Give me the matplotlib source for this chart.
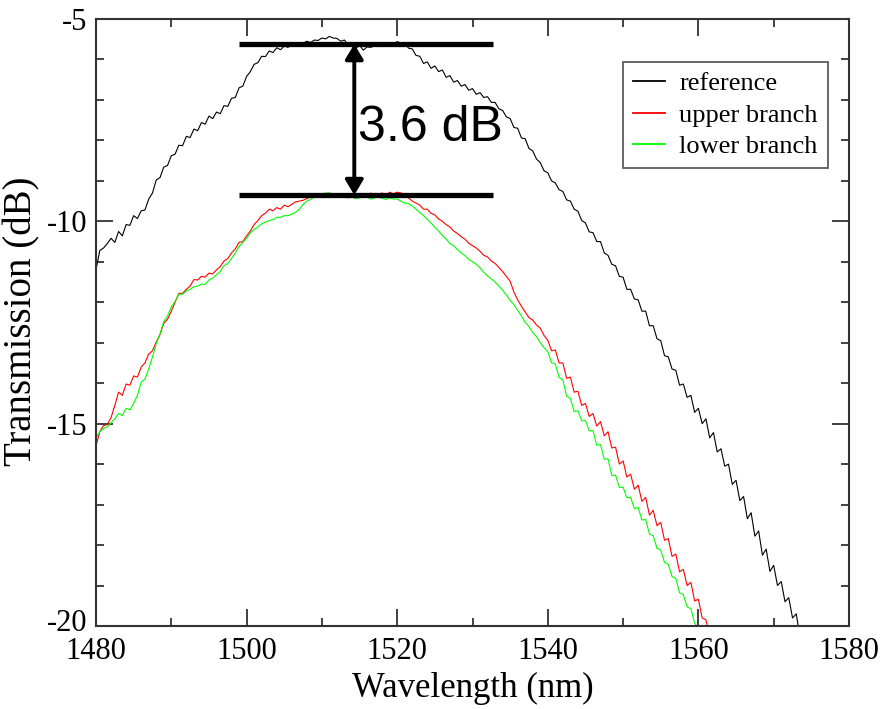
import numpy as np
import matplotlib
matplotlib.use("Agg")
import matplotlib.pyplot as plt
from matplotlib.ticker import MultipleLocator
from matplotlib.transforms import ScaledTranslation

plt.rcParams['axes.unicode_minus'] = False

# ---------------- data (0.5 nm steps) ----------------
ref_wl = np.arange(1480, 1574.01, 0.5)
ref_db = [-11.2, -10.72, -10.66, -10.55, -10.42, -10.52, -10.25, -10.36, -10.08, -10.1,
          -9.86, -9.93, -9.74, -9.72, -9.45, -9.3, -8.98, -8.92, -8.66, -8.62,
          -8.38, -8.34, -8.12, -8.13, -7.9, -7.93, -7.72, -7.76, -7.56, -7.6,
          -7.4, -7.46, -7.3, -7.34, -7.14, -7.16, -6.96, -6.94, -6.7, -6.66,
          -6.42, -6.3, -6.12, -6.08, -5.92, -5.93, -5.79, -5.83, -5.71, -5.76,
          -5.67, -5.7, -5.64, -5.66, -5.6, -5.6, -5.55, -5.58, -5.52, -5.53,
          -5.47, -5.49, -5.43, -5.47, -5.48, -5.55, -5.52, -5.65, -5.62, -5.73,
          -5.65, -5.77, -5.69, -5.7, -5.66, -5.68, -5.62, -5.64, -5.6, -5.61,
          -5.56, -5.6, -5.6, -5.72, -5.74, -5.9, -5.92, -6.1, -6.06, -6.22,
          -6.16, -6.3, -6.26, -6.44, -6.4, -6.56, -6.52, -6.66, -6.62, -6.76,
          -6.72, -6.86, -6.82, -6.94, -6.92, -7.06, -7.06, -7.22, -7.26, -7.42,
          -7.46, -7.68, -7.7, -7.94, -7.96, -8.2, -8.26, -8.46, -8.55, -8.75,
          -8.8, -9.0, -9.05, -9.22, -9.26, -9.47, -9.5, -9.7, -9.75, -9.98,
          -10.04, -10.26, -10.28, -10.5, -10.5, -10.78, -10.84, -11.06, -11.1, -11.36,
          -11.38, -11.68, -11.68, -11.92, -11.94, -12.22, -12.22, -12.58, -12.58, -12.9,
          -12.95, -13.32, -13.35, -13.65, -13.68, -14.05, -14.02, -14.35, -14.3, -14.72,
          -14.62, -15.0, -14.88, -15.35, -15.22, -15.7, -15.62, -16.05, -16.0, -16.5,
          -16.4, -16.9, -16.8, -17.35, -17.2, -17.78, -17.65, -18.25, -18.1, -18.65,
          -18.5, -19.0, -18.9, -19.4, -19.3, -19.8, -19.7, -20.3, -20.5]

up_wl = np.arange(1480, 1562.01, 0.5)
up_db = [-15.55, -15.2, -15.05, -15.02, -14.85, -14.55, -14.22, -14.3, -14.02, -14.05,
         -13.82, -13.85, -13.6, -13.5, -13.28, -13.2, -12.98, -12.8, -12.52, -12.42,
         -12.22, -12.0, -11.78, -11.78, -11.68, -11.6, -11.44, -11.45, -11.36, -11.38,
         -11.28, -11.3, -11.2, -11.12, -10.98, -10.92, -10.78, -10.68, -10.52, -10.5,
         -10.36, -10.24, -10.08, -9.98, -9.86, -9.8, -9.7, -9.74, -9.66, -9.7,
         -9.6, -9.64, -9.58, -9.52, -9.5, -9.48, -9.44, -9.4, -9.38, -9.36,
         -9.34, -9.38, -9.3, -9.36, -9.33, -9.4, -9.36, -9.42, -9.38, -9.35,
         -9.34, -9.4, -9.35, -9.3, -9.38, -9.33, -9.3, -9.36, -9.28, -9.32,
         -9.28, -9.3, -9.33, -9.42, -9.5, -9.55, -9.6, -9.7, -9.7, -9.8,
         -9.84, -9.94, -10.0, -10.08, -10.14, -10.24, -10.3, -10.38, -10.44, -10.54,
         -10.6, -10.66, -10.74, -10.84, -10.88, -10.98, -11.04, -11.14, -11.24, -11.36,
         -11.48, -11.75, -11.94, -12.1, -12.24, -12.38, -12.44, -12.56, -12.64, -12.82,
         -12.94, -13.2, -13.18, -13.5, -13.5, -13.88, -13.85, -14.22, -14.2, -14.55,
         -14.5, -14.82, -14.75, -15.06, -14.95, -15.3, -15.2, -15.6, -15.58, -16.0,
         -15.92, -16.32, -16.25, -16.62, -16.52, -16.92, -16.82, -17.26, -17.14, -17.52,
         -17.44, -17.88, -17.84, -18.28, -18.22, -18.66, -18.6, -19.0, -18.92, -19.38,
         -19.34, -19.8, -19.85, -20.25, -20.35]

lo_wl = np.arange(1480, 1560.01, 0.5)
lo_db = [-15.35, -15.2, -15.12, -15.08, -14.98, -14.88, -14.75, -14.8, -14.62, -14.66,
         -14.5, -14.3, -13.98, -13.9, -13.65, -13.35, -13.02, -12.78, -12.48, -12.34,
         -12.12, -11.98, -11.8, -11.8, -11.72, -11.68, -11.62, -11.6, -11.55, -11.56,
         -11.45, -11.4, -11.32, -11.24, -11.1, -11.04, -10.92, -10.78, -10.62, -10.52,
         -10.42, -10.28, -10.2, -10.14, -10.06, -10.02, -9.98, -9.96, -9.9, -9.9,
         -9.86, -9.86, -9.82, -9.78, -9.7, -9.58, -9.5, -9.46, -9.4, -9.36,
         -9.33, -9.3, -9.3, -9.34, -9.35, -9.4, -9.37, -9.42, -9.4, -9.44,
         -9.42, -9.38, -9.4, -9.45, -9.42, -9.4, -9.43, -9.46, -9.42, -9.45,
         -9.45, -9.5, -9.55, -9.56, -9.62, -9.7, -9.78, -9.86, -9.95, -10.04,
         -10.15, -10.24, -10.35, -10.44, -10.55, -10.6, -10.7, -10.78, -10.85, -10.94,
         -11.0, -11.06, -11.15, -11.26, -11.35, -11.42, -11.5, -11.6, -11.7, -11.82,
         -11.95, -12.06, -12.2, -12.34, -12.5, -12.6, -12.75, -12.85, -13.0, -13.12,
         -13.22, -13.5, -13.52, -13.86, -13.92, -14.32, -14.38, -14.7, -14.68, -14.93,
         -14.92, -15.18, -15.17, -15.53, -15.52, -15.88, -15.87, -16.28, -16.27, -16.58,
         -16.57, -16.83, -16.82, -17.1, -17.07, -17.38, -17.37, -17.73, -17.77, -18.08,
         -18.12, -18.43, -18.47, -18.78, -18.82, -19.18, -19.22, -19.53, -19.57, -19.93,
         -20.05]

series_labels = ["reference", "upper branch", "lower branch"]
series_colors = ["black", "#ff0000", "#00ff00"]

# annotation values
ann_x0, ann_x1 = 1499.0, 1532.7
ann_top, ann_bot = -5.62, -9.35
ann_arrow_x = 1514.3
ann_text = "3.6 dB"
ann_text_xy = (1514.8, -7.69)

xticks_major = [1480, 1500, 1520, 1540, 1560, 1580]
yticks_major = [-20, -15, -10, -5]

# ---------------- figure ----------------
W, H = 886, 709
fig = plt.figure(figsize=(W / 100, H / 100), dpi=100)
L, R, T, B = 96, 849, 19, 626
ax = fig.add_axes([L / W, 1 - B / H, (R - L) / W, (B - T) / H])

ax.plot(ref_wl, ref_db, color=series_colors[0], lw=0.8, label=series_labels[0])
ax.plot(up_wl, up_db, color=series_colors[1], lw=0.8, label=series_labels[1])
ax.plot(lo_wl, lo_db, color=series_colors[2], lw=0.8, label=series_labels[2])

ax.set_xlim(1480, 1580)
ax.set_ylim(-20, -5)
ax.set_xticks(xticks_major)
ax.set_yticks(yticks_major)
ax.xaxis.set_minor_locator(MultipleLocator(10))
ax.yaxis.set_minor_locator(MultipleLocator(1))

spine_col = "#333333"
for s in ax.spines.values():
    s.set_linewidth(1.5)
    s.set_color(spine_col)
ax.tick_params(which="both", direction="in", top=True, right=True, color=spine_col,
               width=1.3, labelsize=22, labelcolor="black")
ax.tick_params(which="major", length=12)
ax.tick_params(which="minor", length=6)
ax.tick_params(axis="x", which="major", pad=8)
ax.tick_params(axis="y", which="major", pad=6)
for lab in ax.get_xticklabels() + ax.get_yticklabels():
    lab.set_fontfamily("Liberation Serif")
# lift the bottom y label slightly so it does not collide with the first x label
ylabs = ax.get_yticklabels()
ylabs[0].set_transform(ylabs[0].get_transform() + ScaledTranslation(0, 6 / 100, fig.dpi_scale_trans))

# annotation bars and arrow
ax.plot([ann_x0, ann_x1], [ann_top, ann_top], color="black", lw=3.8, solid_capstyle="butt", zorder=5)
ax.plot([ann_x0, ann_x1], [ann_bot, ann_bot], color="black", lw=3.8, solid_capstyle="butt", zorder=5)
ax.annotate("", xy=(ann_arrow_x, ann_top), xytext=(ann_arrow_x, ann_bot),
            arrowprops=dict(arrowstyle="<|-|>,head_length=0.45,head_width=0.27",
                            color="black", lw=2.8, shrinkA=0, shrinkB=0,
                            mutation_scale=20), zorder=6)
ax.text(ann_text_xy[0], ann_text_xy[1], ann_text, fontsize=36, family="Liberation Sans",
        ha="left", va="center", zorder=6)

leg = ax.legend(loc="upper left", bbox_to_anchor=(623 / W, 1 - 62 / H),
                bbox_transform=fig.transFigure, prop={"family": "Liberation Serif", "size": 19},
                frameon=True, fancybox=False, shadow=False, handlelength=1.2,
                handletextpad=0.55, borderpad=0.38, labelspacing=0.3, borderaxespad=0)
leg.get_frame().set_edgecolor(spine_col)
leg.get_frame().set_linewidth(1.3)
for h in leg.get_lines():
    h.set_linewidth(1.3)

fig.text(473 / W, 1 - 688 / H, "Wavelength (nm)", family="Liberation Serif", fontsize=25,
         ha="center", va="center")
fig.text(22 / W, 1 - 321 / H, "Transmission (dB)", family="Liberation Serif", fontsize=28,
         ha="center", va="center", rotation=90)

fig.savefig("out.png", dpi=100)
